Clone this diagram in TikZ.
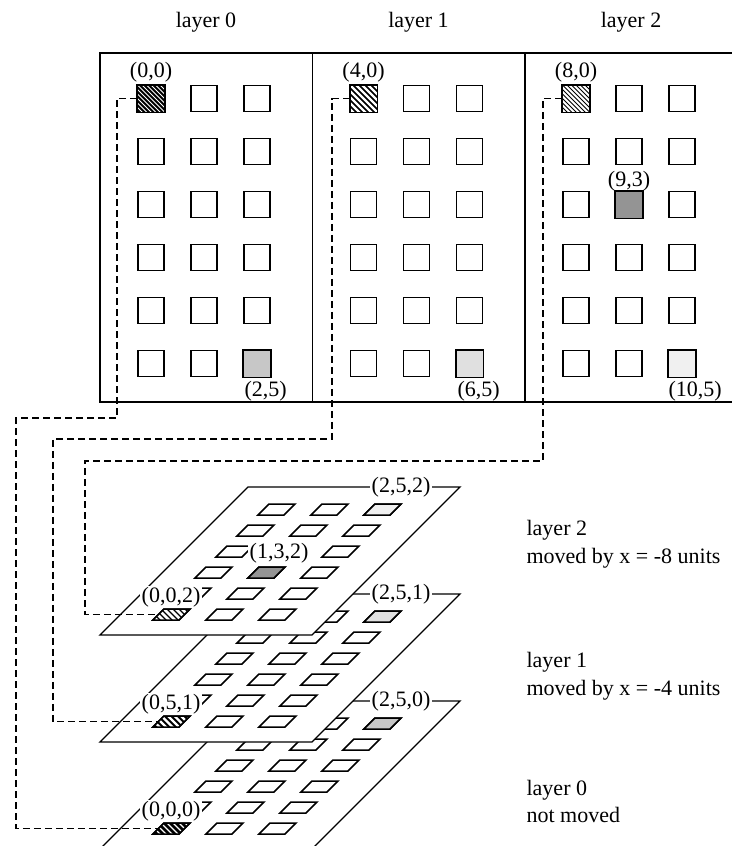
\documentclass[tikz,border=0pt]{standalone}
\usepackage{fontspec}
\setmainfont{Liberation Serif}
\definecolor{gA}{gray}{0.78}
\definecolor{gB}{gray}{0.88}
\definecolor{gC}{gray}{0.94}
\definecolor{gD}{gray}{0.58}
\newcommand{\hatchrect}[5]{%
  \begin{scope}
    \clip (#1.south west) rectangle (#1.north east);
    \fill[#2] (#1.south west) rectangle (#1.north east);
    \foreach \i in {-8,...,8}
      \draw[#3, line width=#4] ([xshift={\i*#5*0.5pt}]#1.north west) -- ++(40,40);
  \end{scope}
  \draw[line width=0.9pt] (#1.south west) rectangle (#1.north east);
}
\newcommand{\hatchpar}[6]{%
  \begin{scope}
    \clip (#1,#2) -- ++(26,0) -- ++(11,-11) -- ++(-26,0) -- cycle;
    \fill[#3] ({#1-5},{#2+5}) rectangle ({#1+45},{#2-15});
    \foreach \i in {-5,...,10}
      \draw[#4, line width=#5] ({#1+\i*#6},{#2-13}) -- ++(16,16);
  \end{scope}
  \draw[pcell, fill=none] (#1,#2) -- ++(26,0) -- ++(11,-11) -- ++(-26,0) -- cycle;
}
\newcommand{\planecells}[1]{%
  \foreach \c in {0,1,2}{\foreach \r in {0,...,5}{
    \draw[pcell] ({153+53*\c+21*\r},{620-21*\r+#1}) -- ++(26,0) -- ++(11,-11) -- ++(-26,0) -- cycle;
  }}%
}
\begin{document}
\begin{tikzpicture}[x=0.5pt,y=-0.5pt,
  cellbox/.style={draw, line width=0.9pt, minimum size=13pt, inner sep=0pt, fill=white},
  panelline/.style={line width=0.8pt},
  dashcon/.style={line width=0.6pt, dash pattern=on 3.5pt off 2pt},
  lbl/.style={font=\fontsize{11}{13}\selectfont, inner sep=0.6pt},
  wlbl/.style={lbl, fill=white},
  plane/.style={draw, fill=white, line width=0.65pt},
  pcell/.style={draw, line width=0.75pt, fill=white}]
\useasboundingbox (0,0) rectangle (732,846);

% ---- top view panels
\node[lbl, anchor=base] (h0) at (206,27) {layer 0};
\node[lbl, anchor=base] (h1) at (418.5,27) {layer 1};
\node[lbl, anchor=base] (h2) at (631,27) {layer 2};
\draw[panelline] (100,53) rectangle (737,402);
\draw[panelline] (312.5,53) -- (312.5,402);
\draw[panelline] (525,53) -- (525,402);

\foreach \p in {0,1,2}{
  \foreach \c in {0,1,2}{
    \foreach \r in {0,...,5}{
      \node[cellbox] (t-\p-\c-\r) at ({151+212.5*\p+53*\c},{98.5+53*\r}) {};
}}}
\path[draw, fill=gA, line width=0.9pt] (t-0-2-5.south west) rectangle (t-0-2-5.north east);
\path[draw, fill=gB, line width=0.9pt] (t-1-2-5.south west) rectangle (t-1-2-5.north east);
\path[draw, fill=gC, line width=0.9pt] (t-2-2-5.south west) rectangle (t-2-2-5.north east);
\path[draw, fill=gD, line width=0.9pt] (t-2-1-2.south west) rectangle (t-2-1-2.north east);
\hatchrect{t-0-0-0}{black}{white}{0.5pt}{4.5}
\hatchrect{t-1-0-0}{black}{white}{1.1pt}{6}
\hatchrect{t-2-0-0}{white}{black}{0.5pt}{4.5}

\node[lbl] (a00) at (151,72) {(0,0)};
\node[lbl] (a40) at (363.5,72) {(4,0)};
\node[lbl] (a80) at (576,72) {(8,0)};
\node[lbl] (a93) at (629,181) {(9,3)};
\node[lbl, anchor=west] (a25) at (243,391) {(2,5)};
\node[lbl, anchor=west] (a65) at (456,391) {(6,5)};
\node[lbl, anchor=west] (a105) at (667,391) {(10,5)};

% ---- 3D stack: layer 0
\draw[plane] (100,849) -- (312,849) -- (460,701) -- (248,701) -- cycle;
\planecells{214}
\draw[pcell, fill=gA] (364,729) -- ++(26,0) -- ++(11,-11) -- ++(-26,0) -- cycle;
\hatchpar{153}{834}{black}{white}{0.6pt}{6}
\coordinate (e0) at (158.5,828.5);
\node[wlbl] (b250) at (401,701) {(2,5,0)};
\node[wlbl] (b000) at (171,811) {(0,0,0)};

% ---- layer 1
\draw[plane] (100,742) -- (312,742) -- (460,594) -- (248,594) -- cycle;
\planecells{107}
\draw[pcell, fill=gB] (364,622) -- ++(26,0) -- ++(11,-11) -- ++(-26,0) -- cycle;
\hatchpar{153}{727}{black}{white}{1.2pt}{6.5}
\coordinate (e1) at (158.5,721.5);
\node[wlbl] (b251) at (401,594) {(2,5,1)};
\node[wlbl] (b051) at (171,704) {(0,5,1)};

% ---- layer 2
\draw[plane] (100,635) -- (312,635) -- (460,487) -- (248,487) -- cycle;
\planecells{0}
\draw[pcell, fill=gC] (364,515) -- ++(26,0) -- ++(11,-11) -- ++(-26,0) -- cycle;
\draw[pcell, fill=gD] (248,578) -- ++(26,0) -- ++(11,-11) -- ++(-26,0) -- cycle;
\hatchpar{153}{620}{white}{black}{0.6pt}{6}
\coordinate (e2) at (158.5,614.5);
\node[wlbl] (b252) at (401,487) {(2,5,2)};
\node[wlbl] (b132) at (279,553) {(1,3,2)};
\node[wlbl] (b002) at (171,597) {(0,0,2)};

% ---- right texts
\node[lbl, anchor=base west] (r2a) at (525,535) {layer 2};
\node[lbl, anchor=base west] (r2b) at (525,563) {moved by x = -8 units};
\node[lbl, anchor=base west] (r1a) at (525,667) {layer 1};
\node[lbl, anchor=base west] (r1b) at (525,695) {moved by x = -4 units};
\node[lbl, anchor=base west] (r0a) at (525,795) {layer 0};
\node[lbl, anchor=base west] (r0b) at (525,822) {not moved};

% ---- dashed connectors
\draw[dashcon] (t-0-0-0.west) -| (117,418) -| (16,828.5) -- (e0);
\draw[dashcon] (t-1-0-0.west) -| (332,439) -| (53,721.5) -- (e1);
\draw[dashcon] (t-2-0-0.west) -| (543,461) -| (85,614.5) -- (e2);
\end{tikzpicture}
\end{document}
